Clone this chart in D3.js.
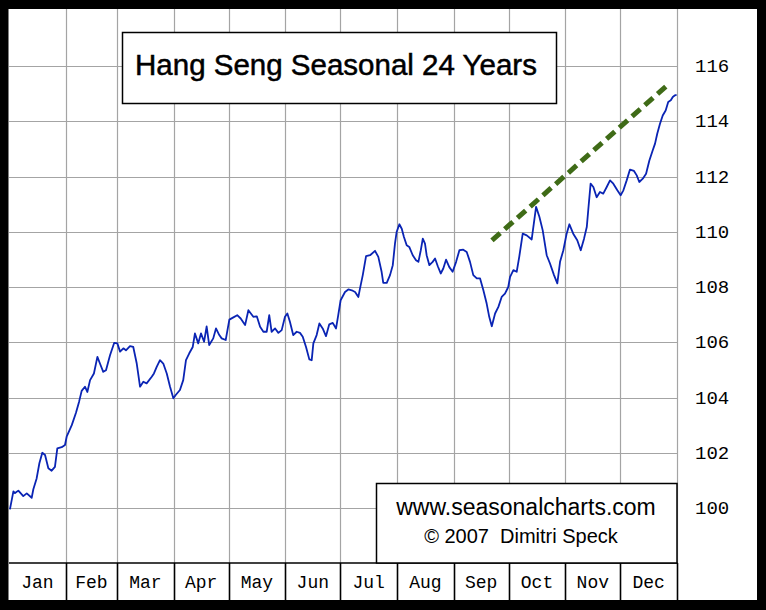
<!DOCTYPE html>
<html><head><meta charset="utf-8">
<script src="https://cdn.jsdelivr.net/npm/d3@7"></script>
<style>html,body{margin:0;padding:0;background:#fff;}svg{display:block;}</style>
</head><body>
<svg id="chart" width="766" height="610"></svg>
<script>
const titleText = "Hang Seng Seasonal 24 Years";
const creditLine1 = "www.seasonalcharts.com";
const creditLine2 = "\u00A9 2007\u00A0\u00A0Dimitri Speck";
const months = ["Jan","Feb","Mar","Apr","May","Jun","Jul","Aug","Sep","Oct","Nov","Dec"];
const monthStartDays = [0,31,59,90,120,151,181,212,243,273,304,334,365];
const yTicks = [100,102,104,106,108,110,112,114,116];
const days = [0.5,2.4,3.3,5.1,7.8,9.7,12.4,13.3,15.1,16.6,18.2,19.7,21.5,23.3,25.1,26.4,28.8,30.6,31.5,34.3,36.6,38.3,39.7,41.5,42.8,44.3,46.4,48.3,49.7,51.5,53.0,55.2,57.5,59.2,60.7,62.5,63.9,66.1,67.9,69.8,71.6,73.4,75.2,78.0,79.2,80.7,82.5,84.3,86.2,88.0,89.8,91.1,93.4,95.2,96.7,98.5,100.4,101.6,103.4,104.9,106.6,108.0,109.4,111.6,113.1,114.9,116.2,118.4,120.4,122.6,124.7,126.6,129.0,130.8,133.5,135.4,137.2,139.0,140.8,142.2,143.5,145.4,147.2,149.0,150.8,152.1,153.5,155.3,157.2,159.0,160.5,162.3,164.1,165.4,166.3,168.1,169.6,171.4,173.2,175.0,176.9,178.7,179.9,181.2,183.6,185.4,187.3,189.1,190.9,191.8,193.3,195.1,197.3,200.0,201.8,203.6,204.5,206.4,208.2,209.7,210.9,211.8,213.3,214.6,215.8,217.3,218.7,220.6,222.4,223.7,225.0,226.1,227.3,228.2,229.7,231.5,232.8,234.3,235.9,237.3,238.8,240.6,242.4,244.3,246.1,248.2,250.1,251.9,253.7,255.6,257.4,259.2,261.0,262.4,263.8,265.6,267.4,269.2,271.0,272.8,273.8,275.6,277.4,278.8,280.7,282.9,285.6,288.0,289.8,291.6,293.8,295.6,297.8,299.6,301.1,302.9,304.7,306.2,308.3,310.5,312.4,314.2,315.7,316.5,317.8,319.3,321.1,322.9,324.7,326.6,328.4,330.2,332.4,334.2,335.7,337.5,339.3,341.5,343.0,344.4,346.3,348.1,349.9,351.7,353.0,354.2,355.7,357.2,358.8,360.2,361.6,362.7,363.9,364.8];
const values = [99.95,100.6,100.54,100.63,100.43,100.53,100.37,100.68,101.07,101.62,102.0,101.92,101.44,101.35,101.49,102.16,102.2,102.28,102.58,103.0,103.45,103.85,104.24,104.39,104.2,104.63,104.87,105.47,105.23,104.93,104.99,105.53,105.98,105.96,105.66,105.78,105.71,105.86,105.83,105.23,104.39,104.57,104.51,104.75,104.87,105.11,105.35,105.23,104.87,104.39,103.97,104.09,104.27,104.63,105.35,105.6,105.83,106.32,105.96,106.32,106.02,106.57,105.9,106.14,106.5,106.26,106.14,106.08,106.82,106.9,106.98,106.86,106.62,107.16,106.92,106.94,106.56,106.38,106.38,106.98,106.38,106.5,106.34,106.44,106.92,107.04,106.74,106.26,106.38,106.34,106.2,105.83,105.38,105.35,105.96,106.26,106.68,106.5,106.22,106.65,106.7,106.5,106.98,107.52,107.82,107.91,107.88,107.82,107.64,107.95,108.43,109.12,109.15,109.31,109.09,108.55,108.15,108.15,108.43,108.79,109.57,109.99,110.27,110.11,109.81,109.51,109.45,109.15,108.97,108.91,109.33,109.75,109.57,109.15,108.79,108.91,109.03,108.75,108.49,108.67,108.99,108.72,108.55,108.91,109.33,109.35,109.27,108.91,108.43,108.31,108.31,107.88,107.4,106.92,106.58,107.04,107.28,107.64,107.76,108.0,108.37,108.61,108.55,109.09,109.93,109.87,109.72,110.9,110.54,110.06,109.15,108.85,108.43,108.13,108.91,109.33,109.93,110.27,109.93,109.69,109.33,109.75,110.17,110.78,111.74,111.62,111.25,111.44,111.38,111.62,111.86,111.74,111.5,111.32,111.5,111.86,112.25,112.2,112.04,111.8,111.92,112.1,112.58,112.94,113.19,113.55,113.91,114.21,114.39,114.7,114.76,114.88,114.94,114.96];
const trendDays = [263.9, 359.0];
const trendValues = [109.69, 115.26];

const svg = d3.select("#chart");
const W = 766, H = 610;
const plot = {left: 9, right: 677, top: 9, bottom: 563};
const axisBottom = 600;

const x = d3.scaleLinear().domain([0, 365]).range([plot.left, plot.right]);
const y = d3.scaleLinear().domain([98, 118]).range([563.25, 10.75]);

// black frame
svg.append("rect").attr("x",0).attr("y",0).attr("width",W).attr("height",H).attr("fill","#000");
svg.append("rect").attr("x",8.5).attr("y",9).attr("width",757-8.5).attr("height",axisBottom-9).attr("fill","#fff");

// grid
const grid = svg.append("g");
grid.selectAll("line.h").data(yTicks).join("line")
  .attr("x1", plot.left).attr("x2", plot.right)
  .attr("y1", d => Math.round(y(d)) + 0.5).attr("y2", d => Math.round(y(d)) + 0.5)
  .attr("stroke", "#a4a4a4").attr("stroke-width", 1.2);
grid.selectAll("line.v").data(monthStartDays.slice(1)).join("line")
  .attr("x1", d => Math.round(x(d)) + 0.5).attr("x2", d => Math.round(x(d)) + 0.5)
  .attr("y1", plot.top).attr("y2", plot.bottom)
  .attr("stroke", "#a4a4a4").attr("stroke-width", 1.2);

// right axis labels
svg.append("g").selectAll("text").data(yTicks).join("text")
  .attr("x", 695).attr("y", d => y(d) + 1)
  .attr("dominant-baseline", "central")
  .attr("font-family", "'Liberation Mono', 'DejaVu Sans Mono', monospace")
  .attr("font-size", 19).attr("fill", "#000")
  .text(d => d);

// month band
const band = svg.append("g");
band.append("line").attr("x1", plot.left).attr("x2", plot.right + 0.5)
  .attr("y1", plot.bottom).attr("y2", plot.bottom)
  .attr("stroke", "#000").attr("stroke-width", 1.6);
band.selectAll("line.sep").data(monthStartDays.slice(1)).join("line")
  .attr("x1", d => Math.round(x(d)) + 0.5).attr("x2", d => Math.round(x(d)) + 0.5)
  .attr("y1", plot.bottom).attr("y2", axisBottom)
  .attr("stroke", "#000").attr("stroke-width", 1.6);
band.selectAll("text").data(months).join("text")
  .attr("x", (d, i) => (x(monthStartDays[i]) + x(monthStartDays[i + 1])) / 2)
  .attr("y", 583)
  .attr("text-anchor", "middle").attr("dominant-baseline", "central")
  .attr("font-family", "'Liberation Mono', 'DejaVu Sans Mono', monospace")
  .attr("font-size", 18).attr("fill", "#000")
  .text(d => d);

// title box
svg.append("rect").attr("x", 122.5).attr("y", 32.5).attr("width", 434).attr("height", 71)
  .attr("fill", "#fff").attr("stroke", "#000").attr("stroke-width", 1.5);
svg.append("text").attr("x", 336).attr("y", 75)
  .attr("text-anchor", "middle")
  .attr("font-family", "'Liberation Sans', Arial, sans-serif")
  .attr("font-size", 29.5).attr("fill", "#000")
  .attr("stroke", "#000").attr("stroke-width", 0.5)
  .text(titleText);

// credit box
svg.append("rect").attr("x", 376.5).attr("y", 483.5).attr("width", 677 - 376.5).attr("height", 563 - 483.5)
  .attr("fill", "#fff").attr("stroke", "#000").attr("stroke-width", 1.5);
svg.append("text").attr("x", 526).attr("y", 515)
  .attr("text-anchor", "middle")
  .attr("font-family", "'Liberation Sans', Arial, sans-serif")
  .attr("font-size", 23).attr("fill", "#000")
  .text(creditLine1);
svg.append("text").attr("x", 521).attr("y", 543)
  .attr("text-anchor", "middle")
  .attr("font-family", "'Liberation Sans', Arial, sans-serif")
  .attr("font-size", 20).attr("fill", "#000")
  .text(creditLine2);

// trend line (dashed)
const trend = trendDays.map((d, i) => [d, trendValues[i]]);
svg.append("path").datum(trend)
  .attr("d", d3.line().x(d => x(d[0])).y(d => y(d[1])))
  .attr("fill", "none").attr("stroke", "#3f6b17").attr("stroke-width", 5)
  .attr("stroke-dasharray", "11,6");

// seasonal line
const series = days.map((d, i) => [d, values[i]]);
svg.append("path").datum(series)
  .attr("d", d3.line().x(d => x(d[0])).y(d => y(d[1])))
  .attr("fill", "none").attr("stroke", "#0a24b4").attr("stroke-width", 1.8)
  .attr("stroke-linejoin", "round");
</script>
</body></html>
